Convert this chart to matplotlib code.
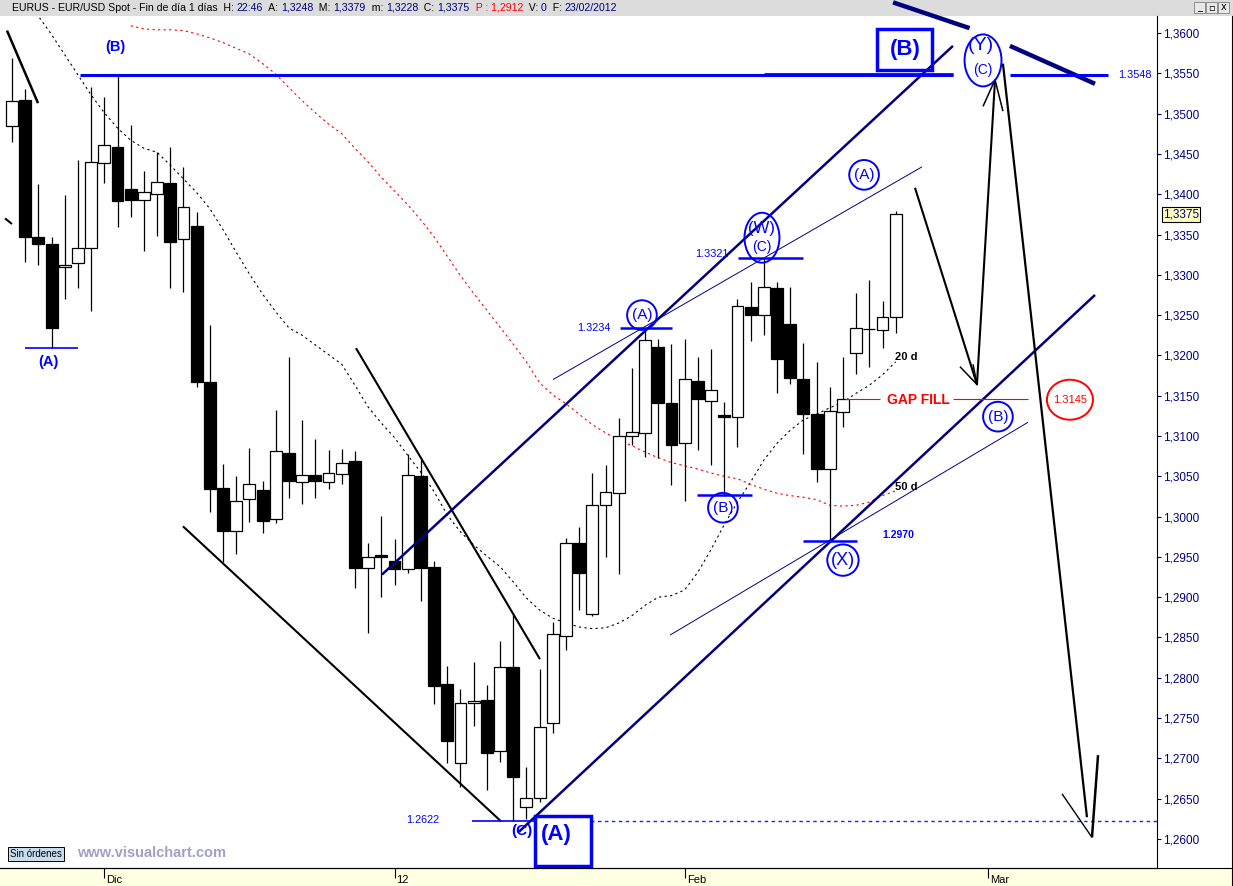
import matplotlib
matplotlib.use('Agg')
import matplotlib.pyplot as plt
import matplotlib.transforms as mtrans
from matplotlib.patches import Rectangle, Ellipse
from matplotlib.lines import Line2D
import numpy as np

plt.rcParams['font.family'] = ['Liberation Sans', 'DejaVu Sans']

# daily EUR/USD candles, 22 Nov 2011 .. 23 Feb 2012
opens = [1.3485, 1.3517, 1.3347, 1.3338, 1.3310, 1.3315, 1.3333, 1.3439, 1.3459, 1.3406,
         1.3393, 1.3400, 1.3414, 1.3344, 1.3361, 1.3167, 1.3036, 1.2982, 1.3022, 1.3033,
         1.2997, 1.3079, 1.3043, 1.3052, 1.3043, 1.3053, 1.3069, 1.2936, 1.2952, 1.2945,
         1.2935, 1.3050, 1.2937, 1.2792, 1.2694, 1.2769, 1.2772, 1.2709, 1.2813, 1.2640,
         1.2651, 1.2744, 1.2852, 1.2967, 1.2879, 1.3014, 1.3029, 1.3100, 1.3104, 1.3210,
         1.3141, 1.3091, 1.3168, 1.3143, 1.3126, 1.3124, 1.3260, 1.3250, 1.3284, 1.3239,
         1.3171, 1.3127, 1.3059, 1.3130, 1.3203, 1.3233, 1.3232, 1.3248]
highs = [1.3569, 1.3531, 1.3413, 1.3347, 1.3399, 1.3442, 1.3533, 1.3521, 1.3548, 1.3486,
         1.3429, 1.3452, 1.3459, 1.3434, 1.3378, 1.3238, 1.3065, 1.3050, 1.3085, 1.3044,
         1.3132, 1.3198, 1.3120, 1.3096, 1.3083, 1.3084, 1.3081, 1.2967, 1.3001, 1.2972,
         1.3078, 1.3070, 1.2945, 1.2815, 1.2786, 1.2820, 1.2791, 1.2846, 1.2880, 1.2689,
         1.2811, 1.2869, 1.2973, 1.2987, 1.3054, 1.3064, 1.3122, 1.3184, 1.3234, 1.3220,
         1.3214, 1.3220, 1.3198, 1.3208, 1.3142, 1.3270, 1.3291, 1.3321, 1.3291, 1.3285,
         1.3215, 1.3192, 1.3161, 1.3198, 1.3277, 1.3294, 1.3267, 1.3379]
lows = [1.3465, 1.3316, 1.3312, 1.3209, 1.3270, 1.3284, 1.3255, 1.3414, 1.3359, 1.3372,
        1.3330, 1.3348, 1.3284, 1.3279, 1.3161, 1.3006, 1.2944, 1.2954, 1.2993, 1.2980,
        1.2992, 1.3023, 1.3016, 1.3023, 1.3034, 1.3040, 1.2911, 1.2856, 1.2900, 1.2915,
        1.2930, 1.2895, 1.2767, 1.2694, 1.2665, 1.2740, 1.2661, 1.2696, 1.2622, 1.2625,
        1.2646, 1.2732, 1.2834, 1.2884, 1.2877, 1.2950, 1.2929, 1.3089, 1.3074, 1.3073,
        1.3039, 1.3019, 1.3083, 1.3064, 1.3026, 1.3086, 1.3218, 1.3225, 1.3153, 1.3165,
        1.3078, 1.3043, 1.2970, 1.3111, 1.3177, 1.3186, 1.3209, 1.3228]
closes = [1.3516, 1.3347, 1.3338, 1.3234, 1.3312, 1.3333, 1.3440, 1.3461, 1.3392, 1.3393,
          1.3403, 1.3415, 1.3341, 1.3384, 1.3167, 1.3034, 1.2982, 1.3019, 1.3040, 1.2995,
          1.3081, 1.3044, 1.3052, 1.3044, 1.3054, 1.3066, 1.2936, 1.2950, 1.2950, 1.2935,
          1.3052, 1.2936, 1.2790, 1.2722, 1.2769, 1.2771, 1.2707, 1.2813, 1.2677, 1.2651,
          1.2739, 1.2854, 1.2967, 1.2930, 1.3014, 1.3030, 1.3100, 1.3105, 1.3219, 1.3141,
          1.3089, 1.3171, 1.3146, 1.3157, 1.3124, 1.3261, 1.3250, 1.3285, 1.3196, 1.3172,
          1.3127, 1.3059, 1.3131, 1.3146, 1.3234, 1.3233, 1.3248, 1.3375]

# moving averages (20 and 50 sessions)
ma20 = [1.3678, 1.3647, 1.3621, 1.3598, 1.3573, 1.3548, 1.3523, 1.3501, 1.3482, 1.3467,
        1.3457, 1.3452, 1.3436, 1.3419, 1.3402, 1.3382, 1.3356, 1.3328, 1.3301, 1.3276,
        1.3254, 1.3234, 1.3225, 1.3213, 1.3201, 1.3189, 1.3163, 1.3136, 1.3116, 1.3098,
        1.3076, 1.3055, 1.3031, 1.3002, 1.2981, 1.2965, 1.2951, 1.2938, 1.2919, 1.2899,
        1.2884, 1.2874, 1.2868, 1.2863, 1.2861, 1.2862, 1.2868, 1.2877, 1.2890, 1.2900,
        1.2902, 1.2909, 1.2931, 1.2959, 1.2990, 1.3018, 1.3043, 1.3070, 1.3091, 1.3107,
        1.3120, 1.3127, 1.3135, 1.3142, 1.3153, 1.3163, 1.3176, 1.3192]
ma50 = [np.nan] * 9 + [
        1.3609, 1.3605, 1.3604, 1.3604, 1.3603, 1.3599, 1.3594, 1.3588, 1.3581, 1.3574,
        1.3562, 1.3549, 1.3532, 1.3516, 1.3501, 1.3487, 1.3475, 1.3457, 1.3440, 1.3421,
        1.3404, 1.3387, 1.3368, 1.3347, 1.3323, 1.3299, 1.3277, 1.3256, 1.3235, 1.3214,
        1.3192, 1.3166, 1.3151, 1.3140, 1.3127, 1.3114, 1.3104, 1.3095, 1.3088, 1.3080,
        1.3073, 1.3067, 1.3063, 1.3059, 1.3054, 1.3050, 1.3047, 1.3040, 1.3034, 1.3029,
        1.3026, 1.3024, 1.3021, 1.3014, 1.3013, 1.3014, 1.3018, 1.3026, 1.3032]

x_ticks = [7, 29, 51, 74]
x_labels = ['Dic', '12', 'Feb', 'Mar']
y_ticks = np.arange(1.2600, 1.36001, 0.005)

BLUE = '#0000ff'
NAVY = '#000080'

W, H = 1233, 886
fig = plt.figure(figsize=(W / 100, H / 100), dpi=100, facecolor='white')
ax = fig.add_axes([0, 18 / H, 1157 / W, 852 / H])
ax.set_xlim(-0.91, 86.81)
ax.set_ylim(1.2564, 1.36211)

idx = np.arange(len(opens))
o = np.array(opens)
c = np.array(closes)
up = c >= o
ax.vlines(idx, lows, highs, color='black', lw=0.9, zorder=2)
ax.bar(idx[up], (c - o)[up], bottom=o[up], width=0.9, facecolor='white',
       edgecolor='black', lw=0.9, zorder=3)
ax.bar(idx[~up], (o - c)[~up], bottom=c[~up], width=0.9, facecolor='black',
       edgecolor='black', lw=0.9, zorder=3)

ax.plot(idx, ma20, color='black', lw=0.8, ls=(0, (2, 3)), zorder=1)
ax.plot(idx, ma50, color='red', lw=0.8, ls=(0, (2, 3)), zorder=1)

# axes look
for s in ['left', 'top']:
    ax.spines[s].set_visible(False)
ax.spines['right'].set_color('black')
ax.spines['bottom'].set_color('black')
ax.yaxis.tick_right()
ax.set_yticks(y_ticks)
ax.set_yticklabels([f'{v:.4f}'.replace('.', ',') for v in y_ticks])
ax.tick_params(axis='y', direction='out', length=3, color=NAVY, labelcolor=NAVY,
               labelsize=8.5, pad=1)
ax.set_xticks(x_ticks)
ax.set_xticklabels(x_labels)
ax.tick_params(axis='x', direction='out', length=7, width=0.8, labelsize=8, pad=-2)
for lab in ax.get_xticklabels():
    lab.set_horizontalalignment('left')
    lab.set_transform(lab.get_transform() + mtrans.ScaledTranslation(2 / 100, 0, fig.dpi_scale_trans))

# ---- drawn annotations ----
def seg(x, y, color, lw, ls='-', z=4, clip=True):
    ax.plot(x, y, color=color, lw=lw, ls=ls, zorder=z, solid_capstyle='butt', clip_on=clip)

# black trend lines
seg([-0.38, 1.97], [1.3603, 1.3513], 'black', 1.8)
seg([-0.53, 0.0], [1.3370, 1.3363], 'black', 1.5)
seg([12.96, 37.07], [1.2988, 1.2622], 'black', 1.5)
seg([26.08, 40.03], [1.3209, 1.2823], 'black', 1.5)
# navy channel
seg([28.05, 71.34], [1.2928, 1.3584], NAVY, 1.8)
seg([38.44, 82.11], [1.2609, 1.3275], NAVY, 1.8)
seg([41.02, 69.0], [1.3170, 1.3434], NAVY, 0.7)
seg([49.89, 77.03], [1.2853, 1.3117], NAVY, 0.7)
seg([66.8, 72.6], [1.3638, 1.3606], NAVY, 3.2, clip=False)
seg([75.66, 82.11], [1.3584, 1.3537], NAVY, 3.2)
# horizontal levels
seg([5.16, 71.34], [1.3548, 1.3548], BLUE, 2.2)
seg([57.0, 71.34], [1.35495, 1.35495], BLUE, 2.0)
seg([75.66, 83.09], [1.3548, 1.3548], BLUE, 2.2)
seg([0.99, 5.0], [1.3209, 1.3209], BLUE, 1.2)
seg([46.1, 50.04], [1.3234, 1.3234], BLUE, 1.8)
seg([55.04, 59.97], [1.3321, 1.3321], BLUE, 1.8)
seg([51.93, 56.1], [1.3027, 1.3027], BLUE, 1.8)
seg([59.97, 64.06], [1.2970, 1.2970], BLUE, 1.8)
seg([34.87, 39.65], [1.2622, 1.2622], BLUE, 1.2)
seg([39.65, 86.81], [1.2622, 1.2622], '#2020ff', 1.0, ls=(0, (2.5, 2.5)))
seg([63.15, 65.81], [1.3146, 1.3146], 'red', 0.8)
seg([71.34, 77.03], [1.3146, 1.3146], 'red', 0.8)
# projected path arrows
seg([68.46, 73.16, 74.53], [1.3408, 1.3164, 1.3542], 'black', 1.5)
seg([71.87, 73.16, 72.86], [1.3186, 1.3164, 1.3189], 'black', 1.1)
seg([73.62, 74.53, 75.13], [1.3509, 1.3542, 1.3503], 'black', 1.1)
seg([75.13, 81.50], [1.3562, 1.2627], 'black', 1.6)
seg([79.61, 81.88], [1.2656, 1.2602], 'black', 1.0)
seg([81.88, 82.34], [1.2602, 1.2704], 'black', 1.8)


def circ(x, y, s, fs=11, pad=0.3, color=BLUE):
    ax.text(x, y, s, color=color, fontsize=fs, ha='center', va='center', zorder=6,
            bbox=dict(boxstyle=f'circle,pad={pad}', fc='none', ec=color, lw=1.4))


def txt(x, y, s, fs=8, color=BLUE, weight='normal', ha='center', z=6):
    ax.text(x, y, s, color=color, fontsize=fs, ha=ha, va='center', fontweight=weight, zorder=z)


txt(7.81, 1.3583, '(B)', fs=10.5, weight='bold')
txt(2.73, 1.3192, '(A)', fs=10.5, weight='bold')
circ(47.76, 1.3250, '(A)')
circ(64.6, 1.3424, '(A)')
circ(53.9, 1.3011, '(B)')
circ(74.75, 1.3124, '(B)')
circ(63.0, 1.2946, '(X)', fs=13, pad=0.2)
txt(56.86, 1.3358, '(W)', fs=12)
txt(56.86, 1.3334, '(C)', fs=10)
ax.add_patch(Ellipse((56.86, 1.3346), 2.65, 0.0062, fill=False, ec=BLUE, lw=1.4, zorder=6))
txt(73.47, 1.3584, '(Y)', fs=14)
txt(73.62, 1.3554, '(C)', fs=10)
ax.add_patch(Ellipse((73.62, 1.3566), 2.8, 0.00645, fill=False, ec=BLUE, lw=1.4, zorder=6))
ax.add_patch(Rectangle((65.58, 1.3554), 4.17, 0.0051, fill=False, ec=BLUE, lw=2.5, zorder=6))
txt(67.7, 1.3579, '(B)', fs=16, weight='bold')
txt(38.67, 1.2610, '(C)', fs=11, weight='bold')
ax.add_patch(Rectangle((39.65, 1.25665), 4.25, 0.0062, fc='white', ec=BLUE, lw=2.5, zorder=7))
txt(41.3, 1.2606, '(A)', fs=16, weight='bold', z=8)
txt(31.16, 1.2624, '1.2622', fs=7.8)
txt(44.1, 1.3234, '1.3234', fs=7.8)
txt(53.1, 1.3326, '1.3321', fs=7.8)
txt(67.17, 1.2977, '1.2970', fs=7.5, weight='bold')
txt(67.78, 1.3198, '20 d', fs=8, color='black', weight='bold')
txt(67.78, 1.3037, '50 d', fs=8, color='black', weight='bold')
txt(68.69, 1.3145, 'GAP FILL', fs=10, color='red', weight='bold')
txt(80.21, 1.3145, '1.3145', fs=8, color='red')
ax.add_patch(Ellipse((80.21, 1.3145), 3.49, 0.00496, fill=False, ec='red', lw=1.4, zorder=6))
txt(85.1, 1.3548, '1.3548', fs=7.8)

# last price marker on the price scale
ax.text(1.005, 1.3375, '1,3375', transform=mtrans.blended_transform_factory(ax.transAxes, ax.transData),
        color=NAVY, fontsize=8.5, va='center', ha='left', clip_on=False,
        bbox=dict(boxstyle='square,pad=0.1', fc='#ffffc0', ec='black', lw=0.8))

# frame pieces of the window
fig.patches.append(Rectangle((0, 1 - 16 / H), 1, 16 / H, transform=fig.transFigure,
                             fc='#dcdcdc', ec='none', zorder=-1))
fig.patches.append(Rectangle((0, 0), 1, 18 / H, transform=fig.transFigure,
                             fc='#ffffe1', ec='none', zorder=-1))
fig.lines.append(Line2D([0, 1], [18 / H, 18 / H], transform=fig.transFigure, color='black', lw=0.8))
fig.lines.append(Line2D([1 - 1 / W, 1 - 1 / W], [0, 1 - 16 / H], transform=fig.transFigure,
                        color='black', lw=0.8))

# header line
renderer = fig.canvas.get_renderer()
pieces = [('EURUS - EUR/USD Spot - Fin de día 1 días  H: ', 'black'), ('22:46', NAVY),
          ('  A: ', 'black'), ('1,3248', NAVY), ('  M: ', 'black'), ('1,3379', NAVY),
          ('  m: ', 'black'), ('1,3228', NAVY), ('  C: ', 'black'), ('1,3375', NAVY),
          ('  P : 1,2912', 'red'), ('  V: ', 'black'), ('0', NAVY), ('  F: ', 'black'),
          ('23/02/2012', NAVY)]
xp = 12
for s, col in pieces:
    t = fig.text(xp / W, 1 - 8 / H, s, color=col, fontsize=7.6, va='center', ha='left')
    xp += t.get_window_extent(renderer).width
for k, g in enumerate(['_', '▫', 'x']):
    fig.patches.append(Rectangle(((1194 + 12 * k) / W, 1 - 13 / H), 11 / W, 11 / H,
                                 transform=fig.transFigure, fc='#e8e8e8', ec='#808080', lw=0.6))
    fig.text((1199.5 + 12 * k) / W, 1 - 7.5 / H, g, fontsize=7, ha='center', va='center',
             family='DejaVu Sans')

# bottom-left status
fig.text(10 / W, 1 - 854 / H, 'Sin órdenes', fontsize=7, va='center', color='black',
         bbox=dict(boxstyle='square,pad=0.2', fc='#c8dcf0', ec='black', lw=0.7))
fig.text(77 / W, 1 - 853 / H, 'www.visualchart.com', fontsize=10.5, fontweight='bold',
         color='#a0a0c8', va='center')

fig.savefig('out.png', dpi=100)
